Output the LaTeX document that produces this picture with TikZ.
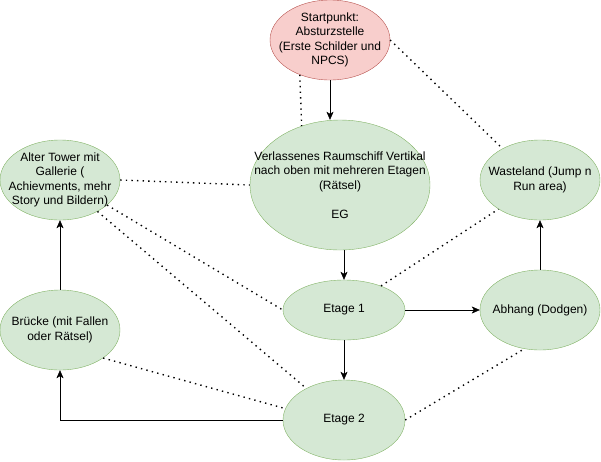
\documentclass[tikz,border=0pt]{standalone}
\usepackage{fontspec}
\setmainfont{Liberation Sans}
\usetikzlibrary{shapes}
\usetikzlibrary{arrows.meta}
\usetikzlibrary{calc,positioning}

\definecolor{gfill}{HTML}{D5E8D4}
\definecolor{gline}{HTML}{82B366}
\definecolor{rfill}{HTML}{F8CECC}
\definecolor{rline}{HTML}{B85450}

\begin{document}
\begin{tikzpicture}[x=1pt, y=-1pt, font=\fontsize{12}{14.5}\selectfont,
  ball/.style = {ellipse, draw=gline, fill=gfill, inner sep=0, minimum width=120pt, minimum height=80pt},
  txt/.style = {label={[align=center]center:{#1}}},
  arr/.style = {-{Stealth[length=8pt, width=7pt, inset=2pt]}},
  dot/.style = {line width=1.4pt, dash pattern=on 1.4pt off 4.2pt}]

\useasboundingbox (0,0) rectangle (601,461);

\node[ball, minimum width=122pt, minimum height=60pt, txt={Etage 1}](e1) at (344,310) {};
\node[ball, minimum width=122pt, below of=e1, node distance=110pt, txt={Etage 2}](e2) {};
\node[ball, right of=e1, node distance=196pt, txt={Abhang (Dodgen)}](abhang) {};
\node[ball, above of=abhang, node distance=130pt, txt={Wasteland (Jump n\\Run area)}](waste) {};
\node[ball, minimum width=180pt, minimum height=130pt, above of=e1, node distance=125pt, xshift=-4pt,
  txt={Verlassenes Raumschiff Vertikal\\nach oben mit mehreren Etagen\\(Rätsel)\\[14.5pt]EG}](verl) {};
\node[ball, draw=rline, fill=rfill, above of=verl, node distance=145pt, xshift=-10pt,
  txt={Startpunkt:\\Absturzstelle\\(Erste Schilder und\\NPCS)}](start) {};
\node[ball, left of=verl, node distance=280pt, yshift=5pt,
  txt={Alter Tower mit\\Gallerie (\\Achievments, mehr\\Story und Bildern)}](tower) {};
\node[ball, below of=tower, node distance=150pt, txt={Brücke (mit Fallen\\oder Rätsel)}](bruecke) {};

\draw [arr] (start) -- (start |- verl.north);
\draw [arr] (e1 |- verl.south) -- (e1.north);
\draw [arr] (e1) -- (e2);
\draw [arr] (e1) -- (abhang);
\draw [arr] (abhang) -- (waste);
\draw [arr] (bruecke) -- (tower);
\draw [arr] (e2.west) -| (bruecke.south);

\draw [dot] (start.229) -- (verl.123);
\draw [dot] (start.east) -- (waste.140);
\draw [dot] (tower.east) -- (verl.west);
\draw [dot] (tower.-28) -- (e1.west);
\draw [dot] (tower.-40) -- (e2.140);
\draw [dot] (bruecke.-33) -- (e2.169);
\draw [dot] (e1.33) -- (waste.215);
\draw [dot] (e2.east) -- (abhang.-112);

\end{tikzpicture}
\end{document}
